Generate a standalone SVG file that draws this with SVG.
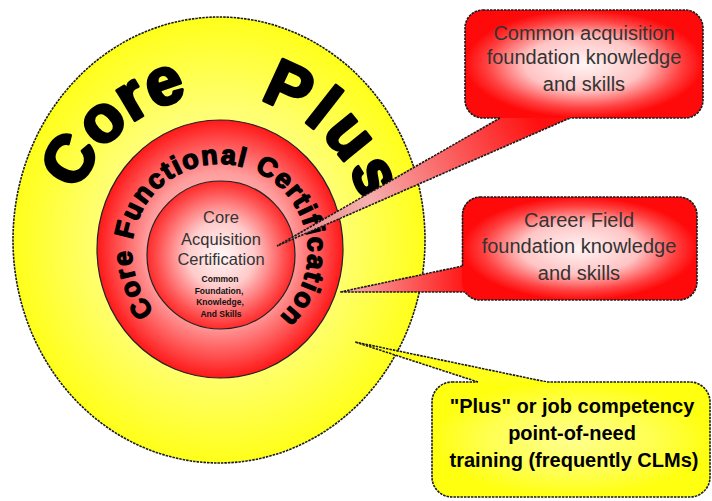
<svg xmlns="http://www.w3.org/2000/svg" xmlns:xlink="http://www.w3.org/1999/xlink" width="712" height="501" viewBox="0 0 712 501">
<style>
.ol{fill:none;stroke:#1a1a1a;stroke-width:1.6;stroke-dasharray:2.5 1;}
.thin{fill:none;stroke:#222;stroke-width:1.2;}
.big{font-family:"Liberation Sans",Arial,sans-serif;font-weight:bold;font-size:66px;fill:#000;stroke:#000;stroke-width:3.2;stroke-linejoin:round;}
.ring{font-family:"Liberation Sans",Arial,sans-serif;font-weight:bold;font-size:27px;fill:#000;stroke:#000;stroke-width:1.4;stroke-linejoin:round;letter-spacing:1.5px;}
.inner{font-family:"Liberation Sans",Arial,sans-serif;font-size:16.5px;fill:#333;text-anchor:middle;}
.tiny{font-family:"Liberation Sans",Arial,sans-serif;font-weight:bold;font-size:8.5px;fill:#111;text-anchor:middle;}
.box{font-family:"Liberation Sans",Arial,sans-serif;font-size:20px;fill:#333;text-anchor:middle;}
.ybox{font-family:"Liberation Sans",Arial,sans-serif;font-weight:bold;font-size:20px;fill:#000;text-anchor:middle;}
</style>
<defs>
<radialGradient id="gy" cx="0.5" cy="0.5" r="0.5">
<stop offset="0" stop-color="#ffffb8"/><stop offset="0.6" stop-color="#ffff70"/><stop offset="1" stop-color="#ffff1a"/>
</radialGradient>
<radialGradient id="gr" cx="0.5" cy="0.5" r="0.5">
<stop offset="0" stop-color="#ffe0e0"/><stop offset="0.6" stop-color="#ff9c9c"/><stop offset="0.85" stop-color="#ff4a4a"/><stop offset="1" stop-color="#ff1818"/>
</radialGradient>
<radialGradient id="gi" cx="0.5" cy="0.5" r="0.5">
<stop offset="0" stop-color="#fff8f8"/><stop offset="0.45" stop-color="#ffcaca"/><stop offset="0.85" stop-color="#ff5252"/><stop offset="1" stop-color="#ff2a2a"/>
</radialGradient>
<radialGradient id="gb" cx="0.5" cy="0.5" r="0.5">
<stop offset="0" stop-color="#fff4f4"/><stop offset="0.5" stop-color="#ffc4c4"/><stop offset="0.82" stop-color="#ff4040"/><stop offset="1" stop-color="#ff0a0a"/>
</radialGradient>
<radialGradient id="gyb" cx="0.5" cy="0.5" r="0.5">
<stop offset="0" stop-color="#ffff90"/><stop offset="0.6" stop-color="#ffff50"/><stop offset="1" stop-color="#ffff10"/>
</radialGradient>
<linearGradient id="gw1" gradientUnits="userSpaceOnUse" x1="277" y1="246" x2="535" y2="118">
<stop offset="0" stop-color="#e87a7a"/><stop offset="0.35" stop-color="#f6b0b0"/><stop offset="1" stop-color="#ff1010"/>
</linearGradient>
<linearGradient id="gw2" gradientUnits="userSpaceOnUse" x1="340" y1="0" x2="462" y2="0">
<stop offset="0" stop-color="#f8b4b4"/><stop offset="1" stop-color="#ff1a1a"/>
</linearGradient>
<path id="arcCP" d="M69,245 A150,150 0 0 1 369,245"/>
<path id="arcCF" d="M154.6,310.9 A88,88 0 1 1 264,328.2"/>
</defs>
<rect width="712" height="501" fill="#fff"/>

<g id="core-plus">
<ellipse cx="219" cy="240" rx="206" ry="223" fill="url(#gy)"/>
<ellipse cx="219" cy="240" rx="206" ry="223" class="ol"/>
<text class="big" letter-spacing="0"><textPath xlink:href="#arcCP" href="#arcCP" startOffset="54">Core</textPath></text>
<text class="big" letter-spacing="4"><textPath xlink:href="#arcCP" href="#arcCP" startOffset="276">Plus</textPath></text>
</g>

<g id="core-functional">
<ellipse cx="220" cy="249" rx="123" ry="129" fill="url(#gr)"/>
<ellipse cx="220" cy="249" rx="123" ry="129" class="thin"/>
<text class="ring"><textPath xlink:href="#arcCF" href="#arcCF" startOffset="0">Core Functional Certification</textPath></text>
</g>

<g id="core-acquisition">
<circle cx="221" cy="255" r="74" fill="url(#gi)"/>
<circle cx="221" cy="255" r="74" class="thin"/>
<text class="inner" x="221" y="223">Core</text>
<text class="inner" x="221" y="245">Acquisition</text>
<text class="inner" x="221" y="265">Certification</text>
<text class="tiny" x="220" y="282">Common</text>
<text class="tiny" x="219" y="293.5">Foundation,</text>
<text class="tiny" x="220" y="305">Knowledge,</text>
<text class="tiny" x="221" y="316.5">And Skills</text>
</g>

<g id="connectors">
<polygon points="277,246 500,118 500,113 570,113 570,118" fill="url(#gw1)"/>
<path d="M500,118 L277,246 L570,118" class="ol"/>
<polygon points="340,292 462.5,266 470,266 470,292" fill="url(#gw2)"/>
<path d="M462.5,266 L340,292 L465,292" class="ol"/>
<polygon points="355,342 478,382 478,387 547,387 547,382" fill="#ffff1a"/>
<path d="M478,382 L355,342 L547,382" class="ol"/>
</g>

<g id="callout-common">
<rect x="465" y="10" width="238" height="108" rx="18" fill="url(#gb)"/>
<path d="M483,10 H685 A18,18 0 0 1 703,28 V100 A18,18 0 0 1 685,118 H570 M500,118 H483 A18,18 0 0 1 465,100 V28 A18,18 0 0 1 483,10" class="ol"/>
<text class="box" x="584" y="40">Common acquisition</text>
<text class="box" x="584" y="64">foundation knowledge</text>
<text class="box" x="584" y="91">and skills</text>
</g>

<g id="callout-career">
<rect x="462" y="197" width="235" height="103" rx="18" fill="url(#gb)"/>
<path d="M480,197 H679 A18,18 0 0 1 697,215 V282 A18,18 0 0 1 679,300 H480 A18,18 0 0 1 465,292 M462.5,266 V215 A18,18 0 0 1 480,197" class="ol"/>
<text class="box" x="579" y="227">Career Field</text>
<text class="box" x="579" y="253">foundation knowledge</text>
<text class="box" x="579" y="280">and skills</text>
</g>

<g id="callout-plus">
<rect x="432" y="382" width="278" height="115" rx="20" fill="url(#gyb)"/>
<path d="M452,382 H478 M547,382 H690 A20,20 0 0 1 710,402 V477 A20,20 0 0 1 690,497 H452 A20,20 0 0 1 432,477 V402 A20,20 0 0 1 452,382" class="ol"/>
<text class="ybox" x="572" y="413">"Plus" or job competency</text>
<text class="ybox" x="572" y="440">point-of-need</text>
<text class="ybox" x="574" y="467">training (frequently CLMs)</text>
</g>
</svg>
